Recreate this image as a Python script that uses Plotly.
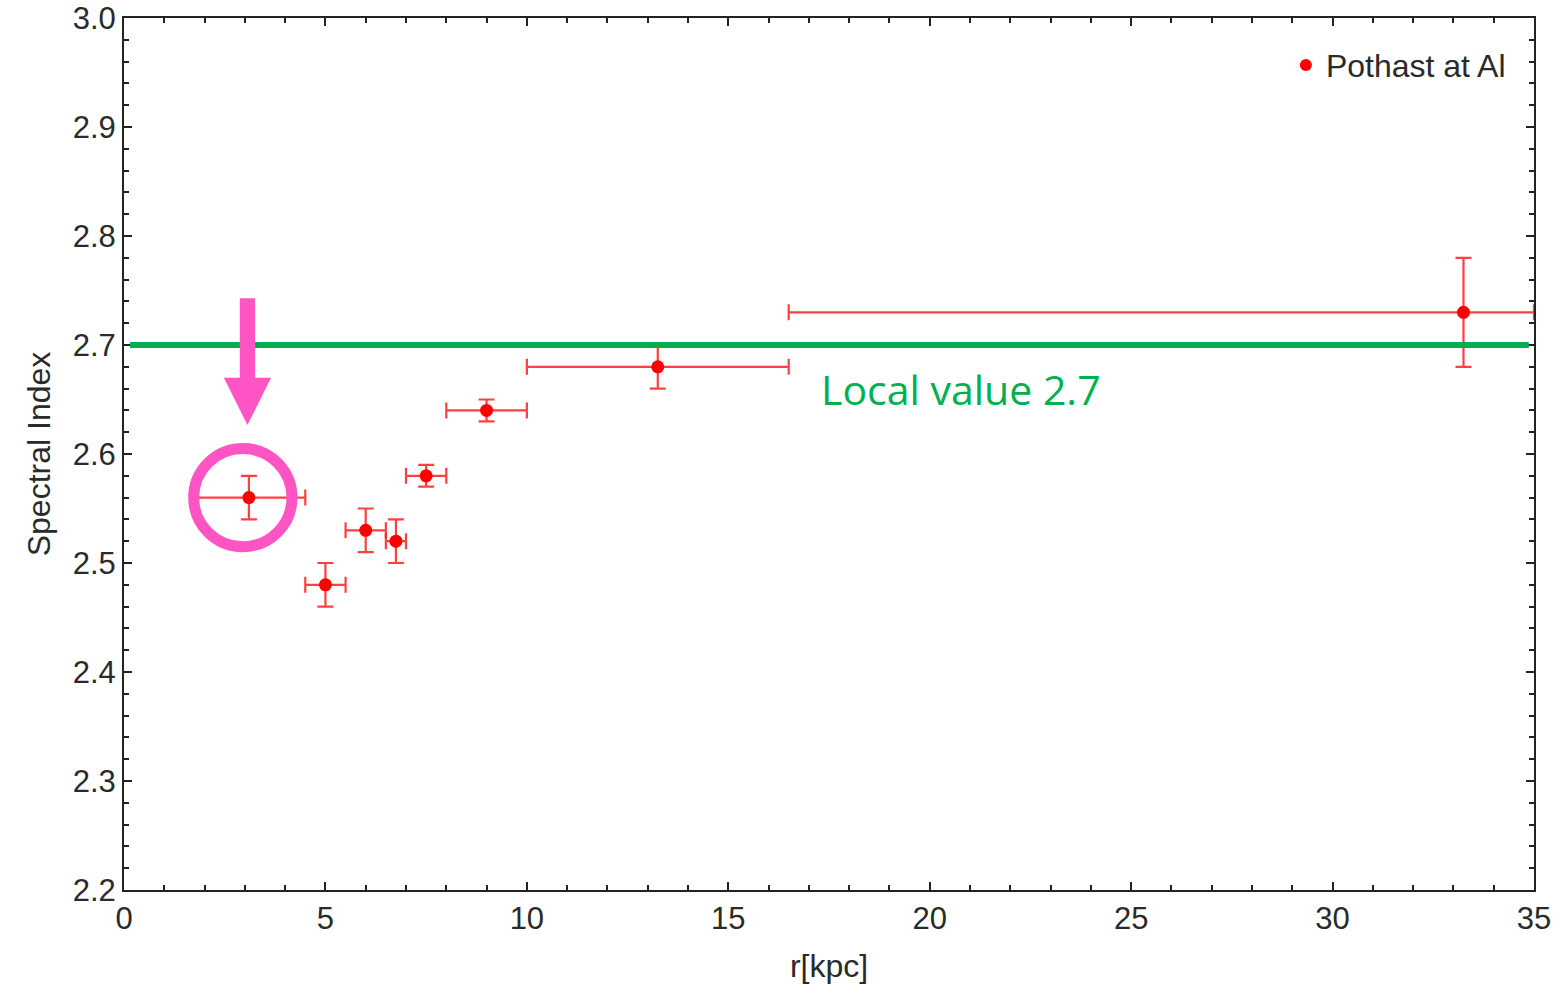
import plotly.graph_objects as go

# Data
r_kpc = [3.1, 5.0, 6.0, 6.75, 7.5, 9.0, 13.25, 33.25]
spectral_index = [2.56, 2.48, 2.53, 2.52, 2.58, 2.64, 2.68, 2.73]
r_low = [1.75, 4.5, 5.5, 6.5, 7.0, 8.0, 10.0, 16.5]
r_high = [4.5, 5.5, 6.5, 7.0, 8.0, 10.0, 16.5, 35.0]
index_err = [0.02, 0.02, 0.02, 0.02, 0.01, 0.01, 0.02, 0.05]
local_value = 2.7

x_tick_vals = [0, 5, 10, 15, 20, 25, 30, 35]
y_tick_vals = [2.2, 2.3, 2.4, 2.5, 2.6, 2.7, 2.8, 2.9, 3.0]

err_minus = [x - lo for x, lo in zip(r_kpc, r_low)]
err_plus = [hi - x for x, hi in zip(r_kpc, r_high)]

ERR_COL = "rgba(255,30,30,0.85)"
PINK = "#FF55C4"
GREEN = "#00B050"
FONT = "Liberation Sans, Arial, sans-serif"
TXT = "#2a2a2a"

fig = go.Figure()
fig.add_trace(go.Scatter(
    x=r_kpc, y=spectral_index, mode="markers", name="Pothast at Al",
    marker=dict(color="#FF0000", size=13),
    error_x=dict(type="data", symmetric=False, array=err_plus, arrayminus=err_minus,
                 color=ERR_COL, thickness=2.2, width=8),
    error_y=dict(type="data", array=index_err, color=ERR_COL, thickness=2.2, width=8),
))

# Local value reference line
fig.add_shape(type="line", x0=0.15, x1=34.87, y0=local_value, y1=local_value,
              line=dict(color=GREEN, width=6), layer="above")

# Highlight circle around first point
cx, cy = r_kpc[0] - 0.15, spectral_index[0]
rx, ry = 1.22, 0.045
fig.add_shape(type="circle", x0=cx - rx, x1=cx + rx, y0=cy - ry, y1=cy + ry,
              line=dict(color=PINK, width=11), layer="above")

# Arrow pointing down at the first point
ax = 3.065
path = (f"M {ax-0.19},2.743 L {ax+0.19},2.743 L {ax+0.19},2.670 L {ax+0.585},2.670 "
        f"L {ax},2.6266 L {ax-0.585},2.670 L {ax-0.19},2.670 Z")
fig.add_shape(type="path", path=path, fillcolor=PINK, line=dict(width=0), layer="above")

fig.add_annotation(x=17.25, y=2.66, xref="x", yref="y", text="Local value 2.7",
                   showarrow=False, xanchor="left", yanchor="middle",
                   font=dict(family="Open Sans, Noto Sans, sans-serif", size=41, color=GREEN))

axis_common = dict(
    showline=True, linecolor="#222", linewidth=2, mirror="ticks",
    ticks="inside", tickcolor="#222", tickwidth=2, ticklen=8,
    showgrid=False, zeroline=False, automargin=False,
    tickfont=dict(family=FONT, size=31, color=TXT),
)

fig.update_xaxes(
    range=[0, 35], tickvals=x_tick_vals, ticktext=[str(v) for v in x_tick_vals],
    title=dict(text="r[kpc]", font=dict(family=FONT, size=32, color=TXT), standoff=19),
    minor=dict(ticks="inside", ticklen=5, tickwidth=1.5, tickcolor="#222", dtick=1),
    **axis_common,
)
fig.update_yaxes(
    range=[2.2, 3.0], tickvals=y_tick_vals, ticktext=[f"{v:.1f}" for v in y_tick_vals],
    title=dict(text="Spectral Index", font=dict(family=FONT, size=32, color=TXT), standoff=12),
    minor=dict(ticks="inside", ticklen=5, tickwidth=1.5, tickcolor="#222", dtick=0.02),
    **axis_common,
)

fig.update_layout(
    width=1554, height=989,
    margin=dict(l=124, r=20, t=18, b=99),
    plot_bgcolor="white", paper_bgcolor="white",
    showlegend=True,
    legend=dict(x=0.9836, y=0.946, xanchor="right", yanchor="middle",
                bgcolor="rgba(0,0,0,0)", font=dict(family=FONT, size=32, color=TXT),
                itemsizing="constant"),
)

fig.write_html("out.html")
